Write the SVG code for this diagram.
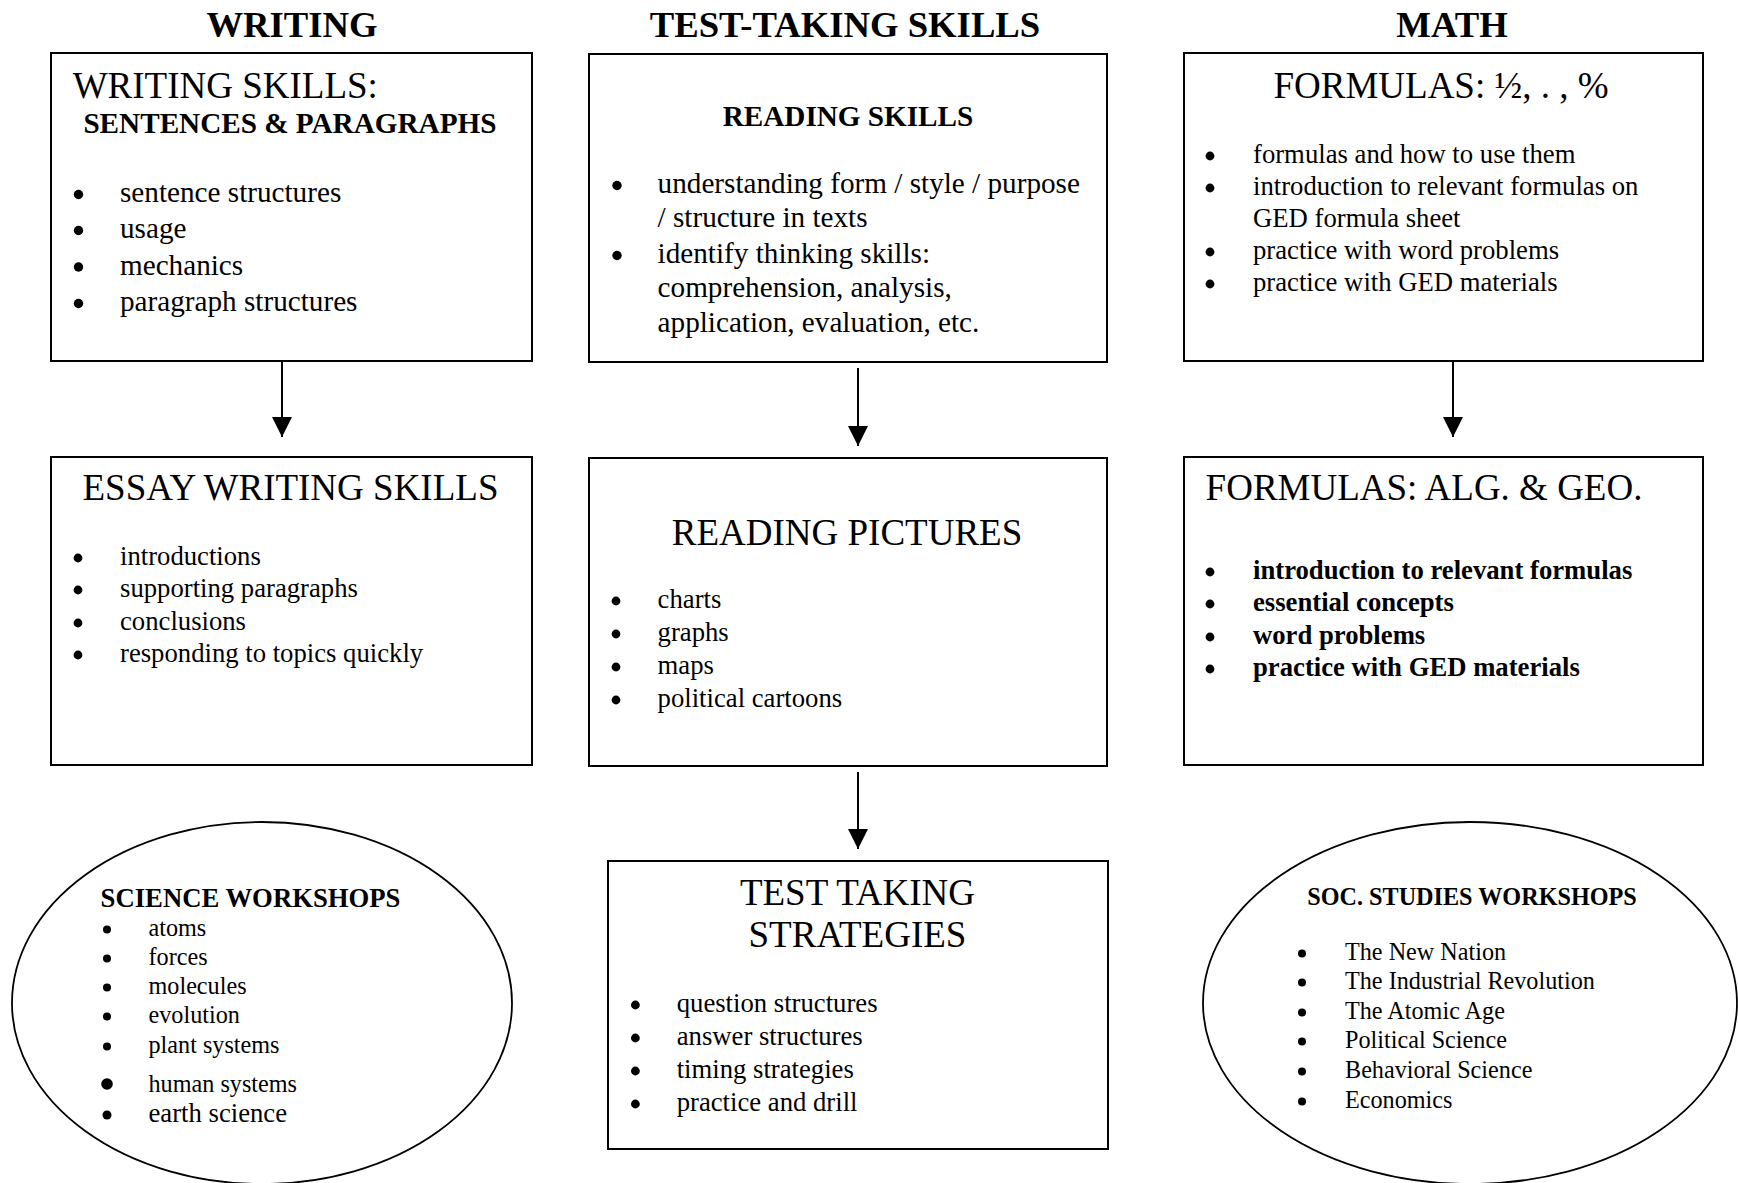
<svg xmlns="http://www.w3.org/2000/svg" width="1738" height="1183" viewBox="0 0 1738 1183">
  <style>
    text { font-family: "Liberation Serif", "Times New Roman", serif; fill: #000; }
    .hd { font-size: 36.7px; font-weight: bold; text-anchor: middle; }
    .ttl { font-size: 37px; }
    .mid { text-anchor: middle; }
    .b12 { font-size: 29.2px; }
    .b11 { font-size: 26.7px; }
    .b10 { font-size: 24.2px; }
    .bold { font-weight: bold; }
    .box { fill: #fff; stroke: #000; stroke-width: 2; }
    .oval { fill: #fff; stroke: #000; stroke-width: 1.8; }
    .conn line { stroke: #000; stroke-width: 2; }
    /* list bullets */
    .dot { fill: #000; stroke: none; }
  </style>
  <defs>
    <marker id="head" markerUnits="userSpaceOnUse" markerWidth="22" markerHeight="20" refX="20" refY="10" orient="auto">
      <path d="M0,0 L20,10 L0,20 Z" fill="#000"/>
    </marker>
  </defs>

  <rect width="1738" height="1183" fill="#fff"/>

  <!-- column headings -->
  <g id="headings">
    <text class="hd" x="292" y="37">WRITING</text>
    <text class="hd" x="845" y="37">TEST-TAKING SKILLS</text>
    <text class="hd" x="1452" y="37">MATH</text>
  </g>

  <!-- writing column -->
  <g id="writing-skills">
    <rect class="box" x="51" y="53" width="481" height="308"/>
    <text class="ttl" x="72.7" y="98">WRITING SKILLS:</text>
    <text class="b12 bold" x="83.4" y="133">SENTENCES &amp; PARAGRAPHS</text>
    <circle class="dot" cx="78.5" cy="194.5" r="4.7"/>
    <circle class="dot" cx="78.5" cy="230.5" r="4.7"/>
    <circle class="dot" cx="78.5" cy="267" r="4.7"/>
    <circle class="dot" cx="78.5" cy="303.5" r="4.7"/>
    <g class="b12">
      <text x="120" y="202">sentence structures</text>
      <text x="120" y="238">usage</text>
      <text x="120" y="274.5">mechanics</text>
      <text x="120" y="311">paragraph structures</text>
    </g>
  </g>

  <g id="essay-writing">
    <rect class="box" x="51" y="457" width="481" height="308"/>
    <text class="ttl mid" x="290.5" y="500">ESSAY WRITING SKILLS</text>
    <circle class="dot" cx="78" cy="558" r="4.4"/>
    <circle class="dot" cx="78" cy="590" r="4.4"/>
    <circle class="dot" cx="78" cy="623" r="4.4"/>
    <circle class="dot" cx="78" cy="655" r="4.4"/>
    <g class="b11">
      <text x="120" y="565">introductions</text>
      <text x="120" y="597">supporting paragraphs</text>
      <text x="120" y="630">conclusions</text>
      <text x="120" y="662">responding to topics quickly</text>
    </g>
  </g>

  <g id="science-workshops">
    <ellipse class="oval" cx="262" cy="1003" rx="250" ry="181"/>
    <text class="b11 bold" x="100.6" y="907">SCIENCE WORKSHOPS</text>
    <circle class="dot" cx="107" cy="929.5" r="4"/>
    <circle class="dot" cx="107" cy="958.5" r="4"/>
    <circle class="dot" cx="107" cy="987.5" r="4"/>
    <circle class="dot" cx="107" cy="1016.5" r="4"/>
    <circle class="dot" cx="107" cy="1046.5" r="4"/>
    <circle class="dot" cx="107" cy="1084" r="5.8"/>
    <circle class="dot" cx="107" cy="1115" r="4.5"/>
    <g class="b10">
      <text x="148.5" y="936">atoms</text>
      <text x="148.5" y="965"> forces</text>
      <text x="148.5" y="994">molecules</text>
      <text x="148.5" y="1023">evolution</text>
      <text x="148.5" y="1053">plant systems</text>
      <text x="148.5" y="1092">human systems</text>
      <text class="b11" x="148.5" y="1122">earth science</text>
    </g>
  </g>

  <!-- test-taking column -->
  <g id="reading-skills">
    <rect class="box" x="589" y="54" width="518" height="308"/>
    <text class="b12 bold mid" x="848" y="126">READING SKILLS</text>
    <circle class="dot" cx="617" cy="185.5" r="4.7"/>
    <circle class="dot" cx="617" cy="255.5" r="4.7"/>
    <g class="b12">
      <text x="657.6" y="193">understanding form / style / purpose</text>
      <text x="657.6" y="227">/ structure in texts</text>
      <text x="657.6" y="263">identify thinking skills:</text>
      <text x="657.6" y="297">comprehension, analysis,</text>
      <text x="657.6" y="332">application, evaluation, etc.</text>
    </g>
  </g>

  <g id="reading-pictures">
    <rect class="box" x="589" y="458" width="518" height="308"/>
    <text class="ttl mid" x="847" y="545">READING PICTURES</text>
    <circle class="dot" cx="616" cy="601" r="4.4"/>
    <circle class="dot" cx="616" cy="634" r="4.4"/>
    <circle class="dot" cx="616" cy="667" r="4.4"/>
    <circle class="dot" cx="616" cy="700" r="4.4"/>
    <g class="b11">
      <text x="657.6" y="608">charts</text>
      <text x="657.6" y="641">graphs</text>
      <text x="657.6" y="674">maps</text>
      <text x="657.6" y="707">political cartoons</text>
    </g>
  </g>

  <g id="test-strategies">
    <rect class="box" x="608" y="861" width="500" height="288"/>
    <text class="ttl mid" x="857.5" y="905">TEST TAKING</text>
    <text class="ttl mid" x="857.5" y="947">STRATEGIES</text>
    <circle class="dot" cx="635.4" cy="1005" r="4.4"/>
    <circle class="dot" cx="635.4" cy="1038" r="4.4"/>
    <circle class="dot" cx="635.4" cy="1071" r="4.4"/>
    <circle class="dot" cx="635.4" cy="1104" r="4.4"/>
    <g class="b11">
      <text x="676.7" y="1012">question structures</text>
      <text x="676.7" y="1045">answer structures</text>
      <text x="676.7" y="1078">timing strategies</text>
      <text x="676.7" y="1111">practice and drill</text>
    </g>
  </g>

  <!-- math column -->
  <g id="formulas-basic">
    <rect class="box" x="1184" y="53" width="519" height="308"/>
    <text class="ttl mid" x="1441" y="98">FORMULAS: ½, . , %</text>
    <circle class="dot" cx="1210" cy="156" r="4.4"/>
    <circle class="dot" cx="1210" cy="188" r="4.4"/>
    <circle class="dot" cx="1210" cy="252" r="4.4"/>
    <circle class="dot" cx="1210" cy="284" r="4.4"/>
    <g class="b11">
      <text x="1253" y="163">formulas and how to use them</text>
      <text x="1253" y="195">introduction to relevant formulas on</text>
      <text x="1253" y="227">GED formula sheet</text>
      <text x="1253" y="259">practice with word problems</text>
      <text x="1253" y="291">practice with GED materials</text>
    </g>
  </g>

  <g id="formulas-alg-geo">
    <rect class="box" x="1184" y="457" width="519" height="308"/>
    <text class="ttl" x="1205.6" y="500">FORMULAS: ALG. &amp; GEO.</text>
    <circle class="dot" cx="1210" cy="572" r="4.4"/>
    <circle class="dot" cx="1210" cy="604" r="4.4"/>
    <circle class="dot" cx="1210" cy="637" r="4.4"/>
    <circle class="dot" cx="1210" cy="669" r="4.4"/>
    <g class="b11 bold">
      <text x="1253" y="579">introduction to relevant formulas</text>
      <text x="1253" y="611">essential concepts</text>
      <text x="1253" y="644">word problems</text>
      <text x="1253" y="676">practice with GED materials</text>
    </g>
  </g>

  <g id="soc-studies-workshops">
    <ellipse class="oval" cx="1470" cy="1003" rx="267" ry="181"/>
    <text class="b10 bold mid" x="1472" y="905">SOC. STUDIES WORKSHOPS</text>
    <circle class="dot" cx="1302" cy="953.5" r="4"/>
    <circle class="dot" cx="1302" cy="982.5" r="4"/>
    <circle class="dot" cx="1302" cy="1012.5" r="4"/>
    <circle class="dot" cx="1302" cy="1041.5" r="4"/>
    <circle class="dot" cx="1302" cy="1071.5" r="4"/>
    <circle class="dot" cx="1302" cy="1101.5" r="4"/>
    <g class="b10">
      <text x="1345" y="960">The New Nation</text>
      <text x="1345" y="989">The Industrial Revolution</text>
      <text x="1345" y="1019">The Atomic Age</text>
      <text x="1345" y="1048">Political Science</text>
      <text x="1345" y="1078">Behavioral Science</text>
      <text x="1345" y="1108">Economics</text>
    </g>
  </g>

  <!-- connectors -->
  <g id="connectors" class="conn">
    <line x1="282" y1="361" x2="282" y2="437" marker-end="url(#head)"/>
    <line x1="858" y1="368" x2="858" y2="446" marker-end="url(#head)"/>
    <line x1="1453" y1="361" x2="1453" y2="437" marker-end="url(#head)"/>
    <line x1="858" y1="772" x2="858" y2="849" marker-end="url(#head)"/>
  </g>
</svg>
